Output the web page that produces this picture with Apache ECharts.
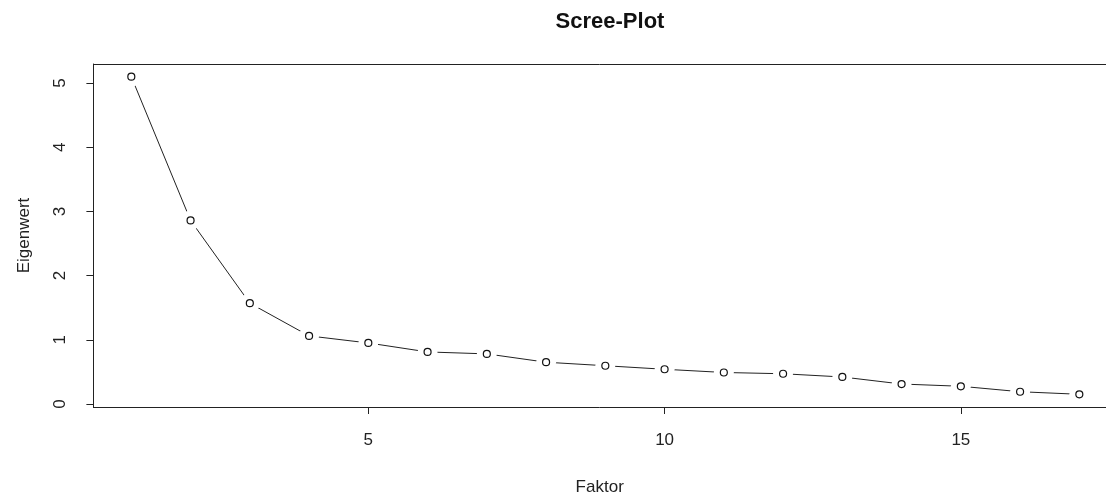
<!DOCTYPE html>
<html>
<head>
<meta charset="utf-8">
<script src="https://cdn.jsdelivr.net/npm/echarts@6/dist/echarts.min.js"></script>
<style>
html,body{margin:0;padding:0;background:#fff;}
#c{width:1106px;height:501px;}
</style>
</head>
<body>
<div id="c"></div>
<script>
var factors = [1,2,3,4,5,6,7,8,9,10,11,12,13,14,15,16,17];
var eigenvalues = [5.10,2.86,1.57,1.06,0.95,0.81,0.78,0.65,0.595,0.54,0.49,0.47,0.42,0.31,0.275,0.19,0.15];
var xTicks = [5,10,15];
var yTicks = [0,1,2,3,4,5];

var pts = factors.map(function(f,i){return [f, eigenvalues[i]];});
var FONT = '"Liberation Sans", Arial, sans-serif';
var LINE = '#222';

var chart = echarts.init(document.getElementById('c'), null, {renderer:'canvas'});
chart.setOption({
  backgroundColor:'#fff',
  animation:false,
  title:{
    text:'Scree-Plot',
    left:605, top:6, textAlign:'center',
    textStyle:{fontFamily:FONT, fontWeight:'bold', fontSize:22, color:'#111'}
  },
  grid:{
    left:93.4, top:64, right:0, bottom:90,
    show:false
  },
  xAxis:[{
    type:'value', min:0.36, max:17.45, position:'bottom',
    name:'Faktor', nameLocation:'middle', nameGap:72,
    nameTextStyle:{fontFamily:FONT, fontSize:17, color:'#222'},
    axisLine:{show:true, onZero:false, lineStyle:{color:LINE, width:1}},
    axisTick:{show:true, customValues:xTicks, length:7, lineStyle:{color:LINE, width:1}},
    axisLabel:{customValues:xTicks, margin:25, fontFamily:FONT, fontSize:17, color:'#222'},
    splitLine:{show:false}
  },{
    type:'value', min:0.36, max:17.45, position:'top',
    axisLine:{show:true, onZero:false, lineStyle:{color:LINE, width:1}},
    axisTick:{show:false}, axisLabel:{show:false}, splitLine:{show:false}
  }],
  yAxis:{
    type:'value', min:-0.048, max:5.298,
    name:'Eigenwert', nameLocation:'middle', nameGap:61, nameRotate:90,
    nameTextStyle:{fontFamily:FONT, fontSize:17, color:'#222'},
    axisLine:{show:true, onZero:false, lineStyle:{color:LINE, width:1}},
    axisTick:{show:true, customValues:yTicks, length:7, lineStyle:{color:LINE, width:1}},
    axisLabel:{customValues:yTicks, margin:25, rotate:90, fontFamily:FONT, fontSize:17, color:'#222'},
    splitLine:{show:false}
  },
  series:[
    {type:'line', data:pts, symbol:'none', z:2,
     lineStyle:{color:'#222', width:1}},
    {type:'scatter', data:pts, symbol:'circle', symbolSize:20, z:3, silent:true,
     itemStyle:{color:'#fff', borderWidth:0, opacity:1}},
    {type:'scatter', data:pts, symbol:'circle', symbolSize:7, z:4,
     itemStyle:{color:'#fff', borderColor:'#111', borderWidth:1.2, opacity:1}}
  ]
});
</script>
</body>
</html>
